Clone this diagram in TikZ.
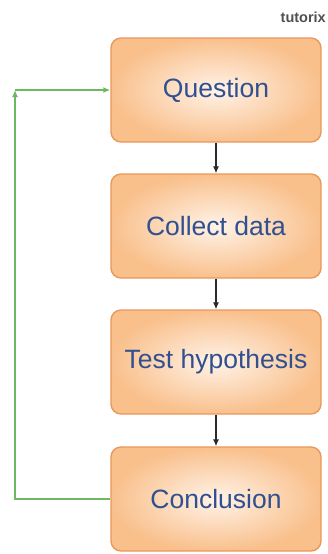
\documentclass[tikz,border=0pt]{standalone}
\usepackage{fontspec}
\setmainfont{Liberation Sans}
\usetikzlibrary{arrows.meta}
\definecolor{boxedge}{HTML}{E8985A}
\definecolor{boxin}{HTML}{FFF3E8}
\definecolor{boxout}{HTML}{F9C08C}
\definecolor{txtblue}{HTML}{30508F}
\definecolor{loopgreen}{HTML}{6DB860}
\definecolor{arrowgray}{HTML}{2A2A2A}
\definecolor{logogray}{HTML}{505050}
\tikzset{
  stepbox/.style={draw=boxedge, line width=1.4pt, rounded corners=10pt,
    inner color=boxin, outer color=boxout,
    minimum width=210pt, minimum height=104pt,
    text=txtblue, font=\fontsize{26.5}{30}\selectfont},
  flowarrow/.style={draw=arrowgray, line width=1.1pt, -{Latex[length=7pt,width=6pt]}},
  looparrow/.style={draw=loopgreen, line width=1.5pt, -{Latex[length=7pt,width=6pt]}},
}
\begin{document}
\begin{tikzpicture}[x=1pt,y=1pt]
\useasboundingbox (0,0) rectangle (328,-554);
\node[stepbox] (q) at (216,-90) {Question};
\node[stepbox] (c) at (216,-226) {Collect data};
\node[stepbox] (t) at (216,-362) {Test hypothesis};
\node[stepbox] (k) at (216,-499) {Conclusion};
\node[text=logogray, font=\bfseries\fontsize{14.5}{16}\selectfont, anchor=east, inner sep=0pt] (logo) at (326,-17) {tutorix};
\draw[flowarrow] (q) -- (c);
\draw[flowarrow] (c) -- (t);
\draw[flowarrow] (t) -- (k);
\coordinate (bl) at (15,-499);
\coordinate (tl) at (15,-90);
\draw[looparrow] (k.west) -- (bl) -- (tl);
\draw[looparrow] (tl) -- (q.west);
\end{tikzpicture}
\end{document}
